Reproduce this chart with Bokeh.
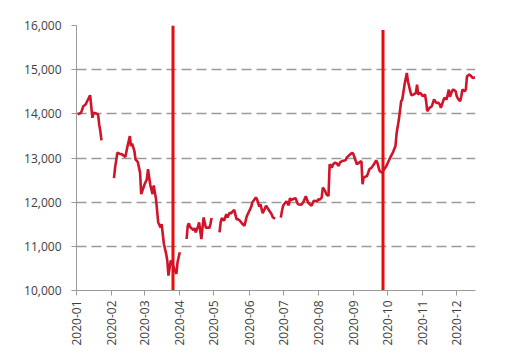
import numpy as np
import pandas as pd
from datetime import datetime
from bokeh.plotting import figure
from bokeh.models import Range1d, DatetimeTickFormatter, MonthsTicker, NumeralTickFormatter, FixedTicker
from bokeh.embed import file_html
from bokeh.resources import INLINE

# --- data (NaN = trading gap) ---
dates = [
    "2020-01-02", "2020-01-05", "2020-01-07", "2020-01-09", "2020-01-13", "2020-01-15", "2020-01-16",
    "2020-01-19", "2020-01-20", "2020-01-21", "2020-01-22", "2020-01-23",
    "2020-01-28",
    "2020-02-03", "2020-02-04", "2020-02-06", "2020-02-08", "2020-02-10", "2020-02-12", "2020-02-13",
    "2020-02-15", "2020-02-17", "2020-02-18", "2020-02-19", "2020-02-21", "2020-02-22", "2020-02-24",
    "2020-02-26", "2020-02-27",
    "2020-03-01", "2020-03-03", "2020-03-04", "2020-03-06", "2020-03-08", "2020-03-09", "2020-03-11",
    "2020-03-13", "2020-03-15", "2020-03-16", "2020-03-18", "2020-03-20", "2020-03-21", "2020-03-22",
    "2020-03-24", "2020-03-25", "2020-03-27", "2020-03-29", "2020-03-30", "2020-04-01",
    "2020-04-04",
    "2020-04-07", "2020-04-08", "2020-04-09", "2020-04-10", "2020-04-12", "2020-04-13", "2020-04-14",
    "2020-04-15", "2020-04-17", "2020-04-18", "2020-04-20", "2020-04-21", "2020-04-22", "2020-04-24",
    "2020-04-26", "2020-04-27", "2020-04-28", "2020-04-29",
    "2020-05-03",
    "2020-05-06", "2020-05-07", "2020-05-08", "2020-05-10", "2020-05-12", "2020-05-13", "2020-05-15",
    "2020-05-16", "2020-05-18", "2020-05-19", "2020-05-21", "2020-05-22", "2020-05-24", "2020-05-26",
    "2020-05-28", "2020-05-30",
    "2020-06-02", "2020-06-03", "2020-06-04", "2020-06-07", "2020-06-08", "2020-06-10", "2020-06-11",
    "2020-06-13", "2020-06-15", "2020-06-16", "2020-06-18", "2020-06-21", "2020-06-22", "2020-06-24",
    "2020-06-26",
    "2020-06-29", "2020-06-30",
    "2020-07-01", "2020-07-03", "2020-07-04", "2020-07-06", "2020-07-07", "2020-07-08", "2020-07-10",
    "2020-07-12", "2020-07-14", "2020-07-17", "2020-07-19", "2020-07-21", "2020-07-23", "2020-07-26",
    "2020-07-28", "2020-07-31",
    "2020-08-01", "2020-08-02", "2020-08-04", "2020-08-05", "2020-08-07", "2020-08-08", "2020-08-10",
    "2020-08-11", "2020-08-13", "2020-08-14", "2020-08-16", "2020-08-17", "2020-08-19", "2020-08-20",
    "2020-08-22", "2020-08-25", "2020-08-26", "2020-08-29", "2020-08-31",
    "2020-09-01", "2020-09-03", "2020-09-04", "2020-09-06", "2020-09-08", "2020-09-09", "2020-09-10",
    "2020-09-11", "2020-09-13", "2020-09-15", "2020-09-17", "2020-09-19", "2020-09-21", "2020-09-22",
    "2020-09-24", "2020-09-26", "2020-09-27", "2020-09-30",
    "2020-10-03", "2020-10-06", "2020-10-08", "2020-10-09", "2020-10-11", "2020-10-13", "2020-10-14",
    "2020-10-16", "2020-10-18", "2020-10-19", "2020-10-21", "2020-10-22", "2020-10-24", "2020-10-26",
    "2020-10-27", "2020-10-28", "2020-10-30", "2020-10-31",
    "2020-11-01", "2020-11-03", "2020-11-04", "2020-11-05", "2020-11-07", "2020-11-09", "2020-11-10",
    "2020-11-11", "2020-11-13", "2020-11-15", "2020-11-16", "2020-11-17", "2020-11-19", "2020-11-20",
    "2020-11-22", "2020-11-23", "2020-11-24", "2020-11-25", "2020-11-27", "2020-11-28", "2020-11-30",
    "2020-12-01", "2020-12-02", "2020-12-04", "2020-12-05", "2020-12-06", "2020-12-08", "2020-12-09",
    "2020-12-10", "2020-12-12", "2020-12-13", "2020-12-15", "2020-12-17",
]
values = [
    13990, 14022, 14173, 14211, 14421, 13910, 14022,
    14000, 13986, 13760, 13609, 13400,
    np.nan,
    12542, 12782, 13120, 13098, 13083, 13045, 13023,
    13271, 13497, 13271, 13323, 13158, 12970, 12910,
    12669, 12181,
    12406, 12519, 12745, 12390, 12181, 12380, 12080,
    11541, 11428, 11504, 11053, 10827, 10677, 10338,
    10677, 10639, 10500, 10376, 10639, 10865,
    np.nan,
    11166, 11466, 11519, 11444, 11391, 11369, 11414,
    11316, 11444, 11541, 11166, 11428, 11654, 11414,
    11428, 11414, 11504, 11639,
    np.nan,
    11316, 11541, 11640, 11580, 11730, 11654, 11767,
    11740, 11805, 11820, 11617, 11617, 11579, 11510,
    11466, 11680,
    11843, 11900, 12000, 12105, 12068, 11900, 11955,
    11750, 11860, 11920, 11840, 11720, 11654, 11625,
    np.nan,
    11650, 11800,
    11917, 11990, 12015, 11930, 12090, 12050, 12070,
    12090, 11955, 11940, 12010, 12135, 11993, 11917,
    12030, 12020,
    12068, 12050, 12105, 12331, 12256, 12181, 12143,
    12858, 12782, 12858, 12895, 12880, 12820, 12895,
    12932, 12948, 13008, 13083, 13120,
    13083, 12932, 12858, 12895, 12932, 12406, 12556,
    12572, 12594, 12745, 12782, 12858, 12948, 12895,
    12707, 12669, 12707, 12820,
    12990, 13140, 13271, 13560, 13870, 14286, 14324,
    14662, 14925, 14737, 14512, 14421, 14436, 14474,
    14662, 14436, 14474, 14436,
    14399, 14436, 14286, 14060, 14135, 14173, 14248,
    14324, 14248, 14248, 14211, 14135, 14286, 14361,
    14324, 14436, 14549, 14383, 14526, 14549, 14512,
    14399, 14346, 14286, 14399, 14549, 14512, 14549,
    14850, 14887, 14872, 14812, 14827,
]

vline_dates = ["2020-03-26", "2020-09-27"]
vline_top = [16000, 15900]
vline_bottom = [9850, 9950]

y_ticks = [10000, 11000, 12000, 13000, 14000, 15000, 16000]

x = pd.to_datetime(dates)
vx = pd.to_datetime(vline_dates)

p = figure(
    width=503, height=356,
    x_axis_type="datetime",
    x_range=Range1d(datetime(2020, 1, 1), datetime(2020, 12, 17, 12)),
    y_range=Range1d(10000, 16000),
    output_backend="svg", toolbar_location=None,
    min_border_left=76, min_border_right=28, min_border_top=25, min_border_bottom=66,
)
p.outline_line_color = None
p.background_fill_color = "white"

p.segment(x0=vx, y0=vline_bottom, x1=vx, y1=vline_top, line_color="#ee0a0a", line_width=3)
p.line(x, values, line_color="#d0142a", line_width=2.6)

# axes
p.xgrid.grid_line_color = None
p.ygrid.ticker = FixedTicker(ticks=y_ticks)
p.ygrid.grid_line_color = "#9a9a9a"
p.ygrid.grid_line_width = 1.5
p.ygrid.grid_line_dash = "10 5"

p.yaxis.ticker = FixedTicker(ticks=y_ticks)
p.yaxis.formatter = NumeralTickFormatter(format="0,0")
p.xaxis.ticker = MonthsTicker(months=list(range(12)))
p.xaxis.formatter = DatetimeTickFormatter(months="%Y-%m", days="%Y-%m")
p.xaxis.major_label_orientation = np.pi / 2

for ax in (p.xaxis[0], p.yaxis[0]):
    ax.axis_line_color = "#9a9a9a"
    ax.axis_line_width = 1
    ax.major_tick_line_color = "#9a9a9a"
    ax.major_tick_in = 0
    ax.major_tick_out = 5
    ax.minor_tick_line_color = None
    ax.major_label_text_font = "Open Sans"
    ax.major_label_text_font_size = "12px"
    ax.major_label_text_color = "#404040"
p.xaxis.major_label_standoff = 5
p.yaxis.major_label_standoff = 10

open("out.html", "w").write(file_html(p, INLINE))
